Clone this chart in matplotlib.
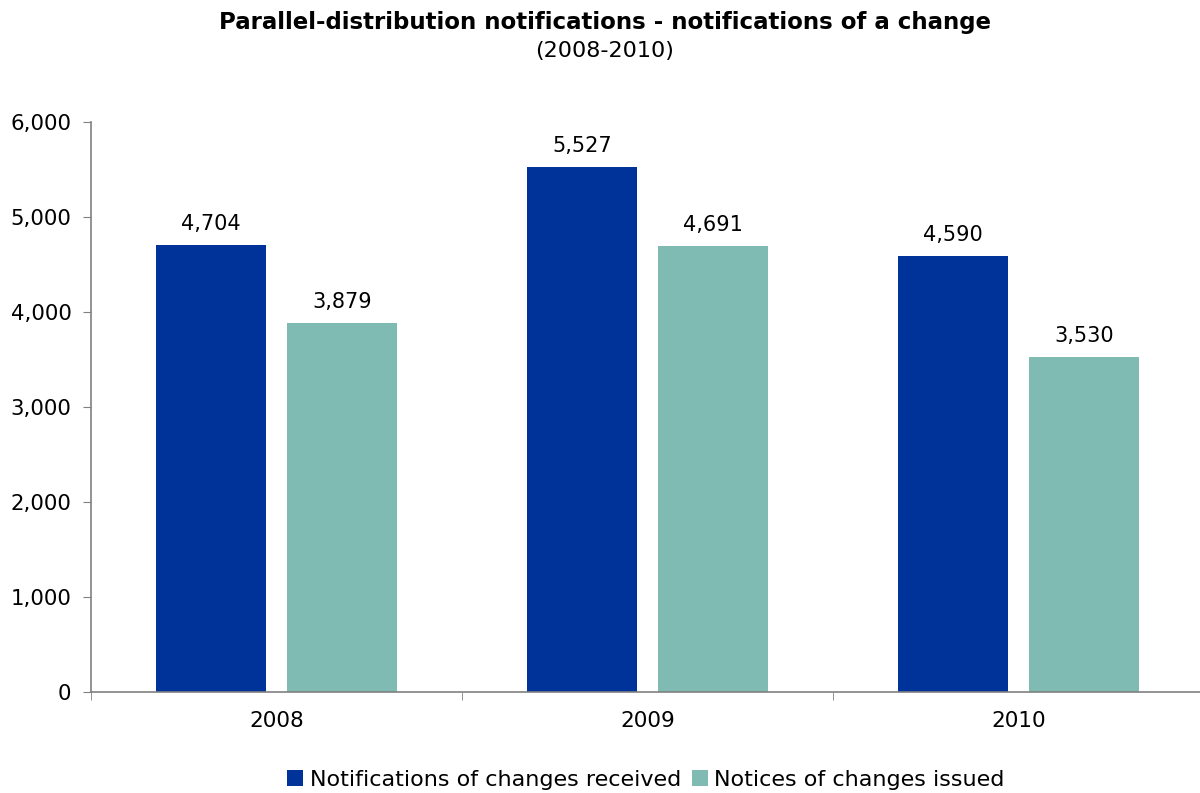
import matplotlib.pyplot as plt
from matplotlib.ticker import FuncFormatter, FixedLocator
import numpy as np

years = ['2008', '2009', '2010']
received = [4704, 5527, 4590]
issued = [3879, 4691, 3530]
series_names = ['Notifications of changes received', 'Notices of changes issued']
colors = ['#003399', '#7FBBB2']

plt.rcParams['font.family'] = 'DejaVu Sans'

fig = plt.figure(figsize=(12, 7.93), dpi=100)
# axes: left 91px, right ~1204px, bottom 692px, top 122px
ax = fig.add_axes([91/1200, (793-692)/793, 1113/1200, 570/793])

x = np.arange(len(years))
w = 0.296
off = 0.1765
b1 = ax.bar(x - off, received, w, color=colors[0], label=series_names[0])
b2 = ax.bar(x + off, issued, w, color=colors[1], label=series_names[1])

for bars in (b1, b2):
    for r in bars:
        ax.annotate(f'{int(r.get_height()):,}', (r.get_x() + r.get_width()/2, r.get_height()),
                    xytext=(0, 8), textcoords='offset points', ha='center', va='bottom', fontsize=15)

ax.set_xlim(-0.5, 2.5)
ax.set_ylim(0, 6000)
ax.set_yticks(range(0, 6001, 1000))
ax.yaxis.set_major_formatter(FuncFormatter(lambda v, p: f'{int(v):,}'))
ax.tick_params(axis='y', labelsize=15.3, length=6, color='#808080', pad=8)

ax.set_xticks(x)
ax.set_xticklabels(years, fontsize=15.5)
ax.tick_params(axis='x', which='major', length=0, pad=14)
ax.xaxis.set_minor_locator(FixedLocator([-0.5, 0.5, 1.5, 2.5]))
ax.tick_params(axis='x', which='minor', length=6, color='#808080', direction='out')

for s in ['top', 'right']:
    ax.spines[s].set_visible(False)
for s in ['left', 'bottom']:
    ax.spines[s].set_color('#808080')
    ax.spines[s].set_linewidth(1.2)

fig.text(605/1200, 1 - 23/793, 'Parallel-distribution notifications - notifications of a change',
         ha='center', va='center', fontsize=16.5, fontweight='bold')
fig.text(605/1200, 1 - 51/793, '(2008-2010)', ha='center', va='center', fontsize=16)

fig.legend(handles=[b1, b2], loc='center', bbox_to_anchor=(646/1200, 1 - 780/793), ncol=2,
           frameon=False, fontsize=16, handlelength=0.7, handleheight=0.7,
           handletextpad=0.3, columnspacing=0.5)

fig.savefig('out.png', dpi=100)
